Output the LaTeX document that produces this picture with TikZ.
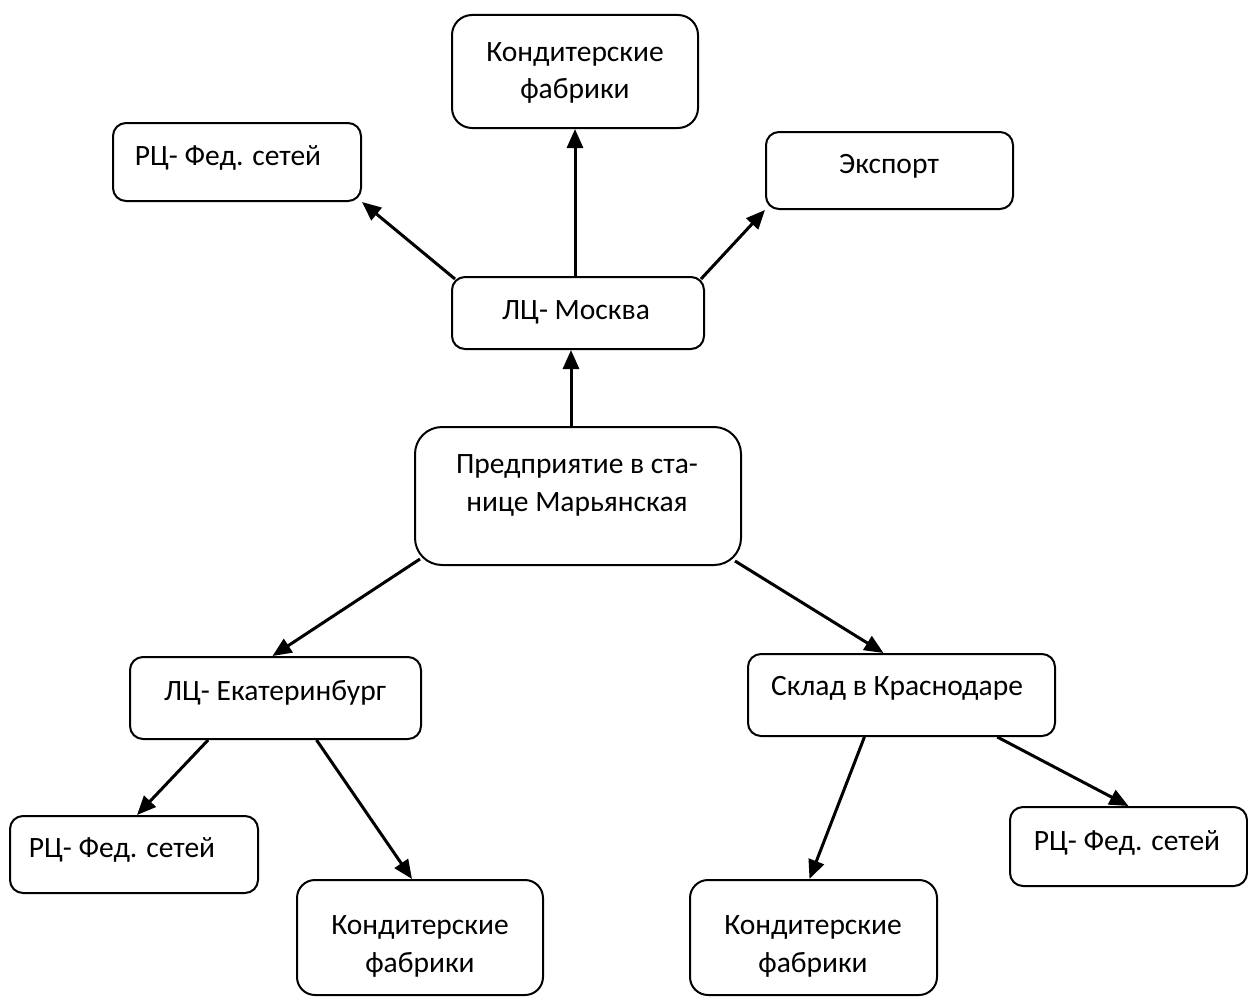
\documentclass[tikz,border=0pt]{standalone}
\usepackage{fontspec}
\setmainfont{Carlito}
\usetikzlibrary{arrows.meta,calc}
\begin{document}
\begin{tikzpicture}[x=1pt,y=-1pt,
  box/.style={draw=black,line width=2pt,rounded corners=13pt,inner sep=0pt,fill=white},
  lbl/.style={anchor=base,inner sep=0pt,font=\fontsize{29.5}{36}\selectfont},
  conn/.style={line width=3pt,-{Triangle[length=19pt,width=16pt]}}]
\useasboundingbox[fill=white] (0,0) rectangle (1248,998);
% boxes
\node[box,rounded corners=20pt,minimum width=246pt,minimum height=113pt] (kt) at (575,71.5) {};
\node[box,minimum width=248pt,minimum height=78pt] (rt) at (237,162) {};
\node[box,minimum width=247pt,minimum height=77pt] (ex) at (889.5,170.5) {};
\node[box,minimum width=252pt,minimum height=72pt] (msk) at (578,313) {};
\node[box,rounded corners=27pt,minimum width=326pt,minimum height=138pt] (pr) at (578,496) {};
\node[box,minimum width=291pt,minimum height=82pt] (ek) at (275.5,698) {};
\node[box,minimum width=307pt,minimum height=82pt] (sk) at (901.5,695) {};
\node[box,minimum width=248pt,minimum height=77pt] (rl) at (134,854.5) {};
\node[box,rounded corners=18pt,minimum width=246pt,minimum height=115pt] (kl) at (420,937.5) {};
\node[box,rounded corners=18pt,minimum width=247pt,minimum height=115pt] (kr) at (813.5,937.5) {};
\node[box,minimum width=237pt,minimum height=79pt] (rr) at (1128.5,846.5) {};
% texts
\node[lbl] (kt1) at (575,62) {Кондитерские};
\node[lbl] (kt2) at (575,99) {фабрики};
\node[lbl] (rtt) at (228,165) {РЦ- Фед. сетей};
\node[lbl] (ext) at (889,173) {Экспорт};
\node[lbl] (mskt) at (576,319) {ЛЦ- Москва};
\node[lbl] (pr1) at (577,473) {Предприятие в ста-};
\node[lbl] (pr2) at (577,511) {нице Марьянская};
\node[lbl] (ekt) at (275,700) {ЛЦ- Екатеринбург};
\node[lbl] (skt) at (897,695) {Склад в Краснодаре};
\node[lbl] (rlt) at (122,857) {РЦ- Фед. сетей};
\node[lbl] (kl1) at (420,934) {Кондитерские};
\node[lbl] (kl2) at (420,972) {фабрики};
\node[lbl] (kr1) at (813,934) {Кондитерские};
\node[lbl] (kr2) at (813,972) {фабрики};
\node[lbl] (rrt) at (1127,850) {РЦ- Фед. сетей};
% connectors
\draw[conn] (kt.south |- msk.north) -- (kt.south);
\draw[conn] ([xshift=4pt,yshift=-3pt]msk.north west) -- (rt.south east);
\draw[conn] ([xshift=-4pt,yshift=-3pt]msk.north east) -- (ex.south west);
\draw[conn] ([xshift=-7pt]pr.north) -- ([xshift=-7pt]msk.south);
\draw[conn] ([xshift=6pt,yshift=7pt]pr.south west) -- ([xshift=-3pt]ek.north);
\draw[conn] ([xshift=-7pt,yshift=5pt]pr.south east) -- ([xshift=-18pt]sk.north);
\draw[conn] ($(ek.south west)!0.27!(ek.south east)$) -- ([xshift=3pt]rl.north);
\draw[conn] ($(ek.south west)!0.64!(ek.south east)$) -- ([xshift=-8pt]kl.north);
\draw[conn] ($(sk.south west)!0.38!(sk.south east)$) -- ([xshift=-4pt]kr.north);
\draw[conn] ($(sk.south west)!0.81!(sk.south east)$) -- (rr.north);
\end{tikzpicture}
\end{document}
